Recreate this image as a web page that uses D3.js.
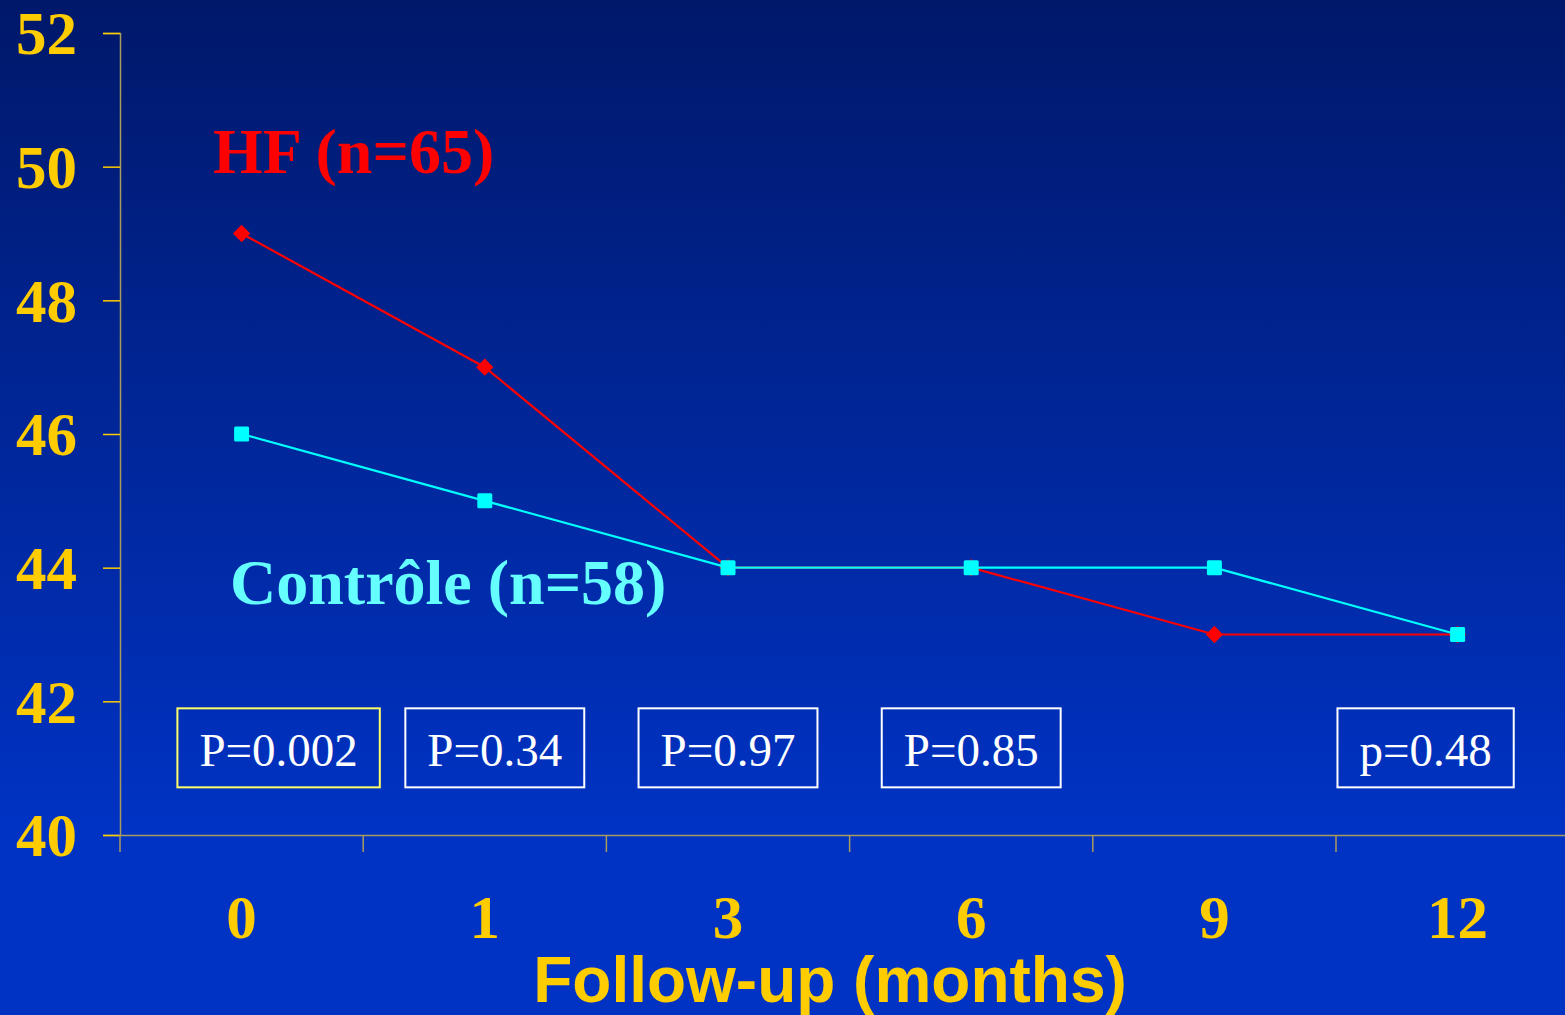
<html>
<head>
<script src="https://d3js.org/d3.v7.min.js"></script>
<style>
  body { margin: 0; background: #0033c4; }
  svg { display: block; }
</style>
</head>
<body>
<svg width="1565" height="1015"></svg>
<script>
const months = ["0", "1", "3", "6", "9", "12"];
const hfValues = [49, 47, 44, 44, 43, 43];
const controlValues = [46, 45, 44, 44, 44, 43];
const yTicks = [40, 42, 44, 46, 48, 50, 52];
const pMonths = ["0", "1", "3", "6", "12"];
const pLabels = ["P=0.002", "P=0.34", "P=0.97", "P=0.85", "p=0.48"];

const gold = "#ffcc00", axisColor = "#a89c5c";
const svg = d3.select("svg");
const W = 1565, H = 1015;

// background gradient
const grad = svg.append("defs").append("linearGradient")
  .attr("id", "bg").attr("x1", 0).attr("y1", 0).attr("x2", 0).attr("y2", 1);
grad.append("stop").attr("offset", "0%").attr("stop-color", "#00186a");
grad.append("stop").attr("offset", "82%").attr("stop-color", "#0033c4");
grad.append("stop").attr("offset", "100%").attr("stop-color", "#0033c4");
svg.append("rect").attr("width", W).attr("height", H).attr("fill", "url(#bg)");

const plotLeft = 120, plotTop = 33, plotBottom = 835;
const bandW = 243.2;

const x = d3.scaleBand().domain(months).range([plotLeft, plotLeft + bandW * months.length]);
const y = d3.scaleLinear().domain([40, 52]).range([plotBottom, plotTop]);
const cx = d => x(d) + x.bandwidth() / 2;

// y axis
const yAxis = svg.append("g").attr("transform", `translate(${plotLeft},0)`)
  .call(d3.axisLeft(y).tickValues(yTicks).tickSize(17).tickPadding(26));
yAxis.select(".domain").attr("stroke", axisColor).attr("stroke-width", 1.5);
yAxis.selectAll(".tick line").attr("stroke", gold).attr("stroke-width", 1.5);
yAxis.selectAll(".tick text")
  .attr("fill", gold).attr("font-family", "'Liberation Serif', 'Times New Roman', serif")
  .attr("font-weight", "bold").attr("font-size", 61).attr("dy", "0.34em");

// x axis
const xAxis = svg.append("g").attr("transform", `translate(0,${plotBottom})`)
  .call(d3.axisBottom(x).tickSize(0).tickPadding(103));
xAxis.select(".domain").attr("stroke", axisColor).attr("stroke-width", 1.5);
xAxis.selectAll(".tick text")
  .attr("fill", gold).attr("font-family", "'Liberation Serif', 'Times New Roman', serif")
  .attr("font-weight", "bold").attr("font-size", 61).attr("dy", "0");
svg.append("g").selectAll("line").data(months).join("line")
  .attr("x1", d => x(d)).attr("x2", d => x(d))
  .attr("y1", plotBottom).attr("y2", plotBottom + 17)
  .attr("stroke", axisColor).attr("stroke-width", 1.5);

svg.append("text")
  .attr("x", 830).attr("y", 1002)
  .attr("text-anchor", "middle")
  .attr("fill", gold).attr("font-family", "'Liberation Sans', Arial, sans-serif")
  .attr("font-weight", "bold").attr("font-size", 64)
  .text("Follow-up (months)");

// lines
const line = d3.line().x(d => cx(d[0])).y(d => y(d[1]));
const hf = months.map((m, i) => [m, hfValues[i]]);
const ctl = months.map((m, i) => [m, controlValues[i]]);

svg.append("path").datum(hf).attr("d", line)
  .attr("fill", "none").attr("stroke", "#ff0000").attr("stroke-width", 2.2);
svg.append("g").selectAll("path").data(hf).join("path")
  .attr("d", d3.symbol(d3.symbolSquare, 150))
  .attr("transform", d => `translate(${cx(d[0])},${y(d[1])}) rotate(45)`)
  .attr("fill", "#ff0000");

svg.append("path").datum(ctl).attr("d", line)
  .attr("fill", "none").attr("stroke", "#00ffff").attr("stroke-width", 2.2);
svg.append("g").selectAll("rect").data(ctl).join("rect")
  .attr("x", d => cx(d[0]) - 7.5).attr("y", d => y(d[1]) - 7.5)
  .attr("width", 15).attr("height", 15).attr("rx", 1.5)
  .attr("fill", "#00ffff");

// series labels
svg.append("text").attr("x", 213).attr("y", 173)
  .attr("fill", "#ff0000").attr("font-family", "'Liberation Serif', 'Times New Roman', serif")
  .attr("font-weight", "bold").attr("font-size", 64).text("HF (n=65)");
svg.append("text").attr("x", 230).attr("y", 604)
  .attr("fill", "#66ffff").attr("font-family", "'Liberation Serif', 'Times New Roman', serif")
  .attr("font-weight", "bold").attr("font-size", 64).text("Contrôle (n=58)");

// p-value boxes
const shift = {"0": 37, "1": 10, "12": -32};
const boxes = svg.append("g").selectAll("g").data(pMonths).join("g")
  .attr("transform", d => `translate(${cx(d) + (shift[d] || 0)},${y(42) + 7})`);
boxes.append("text")
  .attr("text-anchor", "middle").attr("y", 58)
  .attr("fill", "#ffffff").attr("font-family", "'Liberation Serif', 'Times New Roman', serif")
  .attr("font-size", 47)
  .text((d, i) => pLabels[i]);
boxes.each(function(d, i) {
  const g = d3.select(this);
  const bb = g.select("text").node().getBBox();
  const pad = 22;
  g.insert("rect", "text")
    .attr("x", bb.x - pad).attr("y", 0)
    .attr("width", bb.width + pad * 2).attr("height", 79)
    .attr("fill", "none")
    .attr("stroke", i === 0 ? "#ffff66" : "#ffffff").attr("stroke-width", 2);
});
</script>
</body>
</html>
